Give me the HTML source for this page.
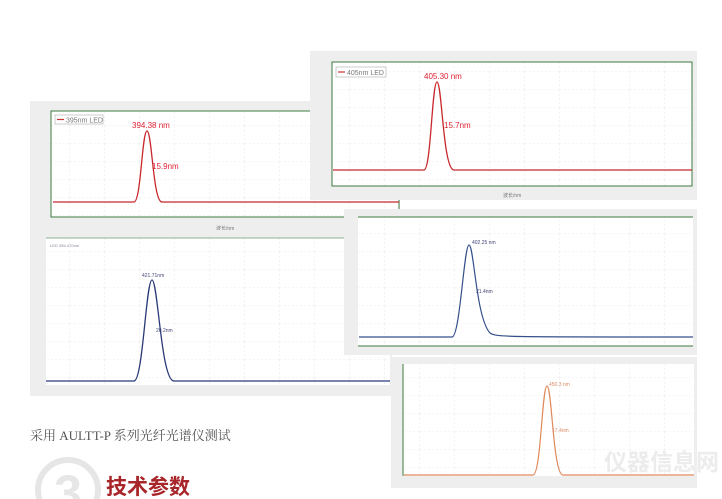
<!DOCTYPE html>
<html><head><meta charset="utf-8"><style>
html,body{margin:0;padding:0;background:#fff;width:722px;height:499px;overflow:hidden}
svg{display:block}
</style></head><body>
<svg width="722" height="499" viewBox="0 0 722 499" xmlns="http://www.w3.org/2000/svg" font-family="Liberation Sans, sans-serif">
<defs>
<pattern id="g" width="35" height="18" patternUnits="userSpaceOnUse"><path d="M35 0V18M0 18H35" stroke="#ddd" stroke-width="0.6" stroke-dasharray="2 2" fill="none"/></pattern>
</defs>
<!-- Panel A -->
<rect x="30" y="101" width="370" height="140" fill="#eeeeee"/>
<rect x="51" y="111" width="348" height="106" fill="#fff"/>
<rect x="51" y="111" width="348" height="106" fill="url(#g)"/>
<rect x="51" y="111" width="348" height="106" fill="none" stroke="#3d7a3d" stroke-width="1"/>
<rect x="55" y="115" width="48" height="9" fill="#fff" stroke="#999" stroke-width="0.5"/>
<line x1="57" y1="119.5" x2="64" y2="119.5" stroke="#c33" stroke-width="1.2"/>
<text x="66" y="122.5" font-size="7" fill="#777">395nm LED</text>
<path d="M53 202 L134 202 C141 202 142 131 147 131 C152 131 153 202 162 202 L399 202" fill="none" stroke="#c8282c" stroke-width="1.3"/>
<text x="132" y="128" font-size="8" fill="#d23">394.38 nm</text>
<text x="152" y="169" font-size="8" fill="#d23">15.9nm</text>
<text x="216" y="230" font-size="5" fill="#777">波长/nm</text>
<!-- Panel B -->
<rect x="310" y="51" width="387" height="149" fill="#eeeeee"/>
<rect x="332" y="62" width="360" height="124" fill="#fff"/>
<rect x="332" y="62" width="360" height="124" fill="url(#g)"/>
<rect x="332" y="62" width="360" height="124" fill="none" stroke="#3d7a3d" stroke-width="1"/>
<rect x="336" y="67" width="50" height="10" fill="#fff" stroke="#999" stroke-width="0.5"/>
<line x1="338" y1="72" x2="345" y2="72" stroke="#c33" stroke-width="1.2"/>
<text x="347" y="75" font-size="7" fill="#777">405nm LED</text>
<path d="M333 170 L424 170 C431 170 432 82 437 82 C442 82 443 170 454 170 L692 170" fill="none" stroke="#c8282c" stroke-width="1.3"/>
<text x="424" y="79" font-size="8" fill="#d23">405.30 nm</text>
<text x="444" y="128" font-size="8" fill="#d23">15.7nm</text>
<text x="503" y="197" font-size="5" fill="#777">波长/nm</text>
<!-- Panel C -->
<rect x="30" y="230" width="362" height="166" fill="#eeeeee"/>
<rect x="46" y="238" width="344" height="147" fill="#fff"/>
<rect x="46" y="238" width="344" height="147" fill="url(#g)"/>
<line x1="46" y1="238" x2="390" y2="238" stroke="#8cb08c" stroke-width="1"/>
<text x="50" y="247" font-size="4" fill="#889">LED 395-470nm</text>
<path d="M46 381 L134 381 C143 381 146 280 152 280 C158 280 161 381 174 381 L390 381" fill="none" stroke="#2a3a78" stroke-width="1.3"/>
<text x="142" y="277" font-size="5" fill="#447">421.71nm</text>
<text x="156" y="332" font-size="5" fill="#447">20.2nm</text>
<!-- Panel D -->
<rect x="344" y="209" width="353" height="146" fill="#eeeeee"/>
<rect x="358" y="217" width="335" height="129" fill="#fff"/>
<rect x="358" y="217" width="335" height="129" fill="url(#g)"/>
<line x1="358" y1="217" x2="693" y2="217" stroke="#3d7a3d" stroke-width="1"/>
<line x1="358" y1="346" x2="693" y2="346" stroke="#3d7a3d" stroke-width="1"/>
<path d="M359 337 L452 337 C460 337 464 245 469 245 C474 245 476 318 490 333 C496 337 500 337 693 337" fill="none" stroke="#34508a" stroke-width="1.2"/>
<text x="472" y="244" font-size="5" fill="#447">402.25 nm</text>
<text x="476" y="293" font-size="5" fill="#447">21.4nm</text>
<!-- Panel E -->
<rect x="391" y="357" width="306" height="131" fill="#eeeeee"/>
<rect x="403" y="364" width="291" height="112" fill="#fff"/>
<rect x="403" y="364" width="291" height="112" fill="url(#g)"/>
<line x1="403" y1="364" x2="403" y2="476" stroke="#3d7a3d" stroke-width="1"/>
<path d="M404 475 L533 475 C541 475 542 386 547 386 C552 386 553 475 563 475 L694 475" fill="none" stroke="#e0885a" stroke-width="1.2"/>
<text x="549" y="386" font-size="5" fill="#d86">450.3 nm</text>
<text x="552" y="432" font-size="5" fill="#d86">17.4nm</text>
<text x="604" y="470" font-size="23" font-weight="bold" fill="#ececec" font-family="Noto Sans CJK SC, sans-serif">仪器信息网</text>
<!-- Text -->
<text x="30" y="440" font-size="13" fill="#555" font-family="Liberation Serif, Noto Serif CJK SC, serif">采用 AULTT-P 系列光纤光谱仪测试</text>
<circle cx="68" cy="490" r="30" fill="none" stroke="#e6e6e6" stroke-width="6"/>
<text x="68" y="510" font-size="50" fill="#e6e6e6" text-anchor="middle" font-weight="bold">3</text>
<text x="106" y="494" font-size="21" font-weight="bold" fill="#a8262a" font-family="Noto Sans CJK SC, sans-serif">技术参数</text>
</svg>
</body></html>
